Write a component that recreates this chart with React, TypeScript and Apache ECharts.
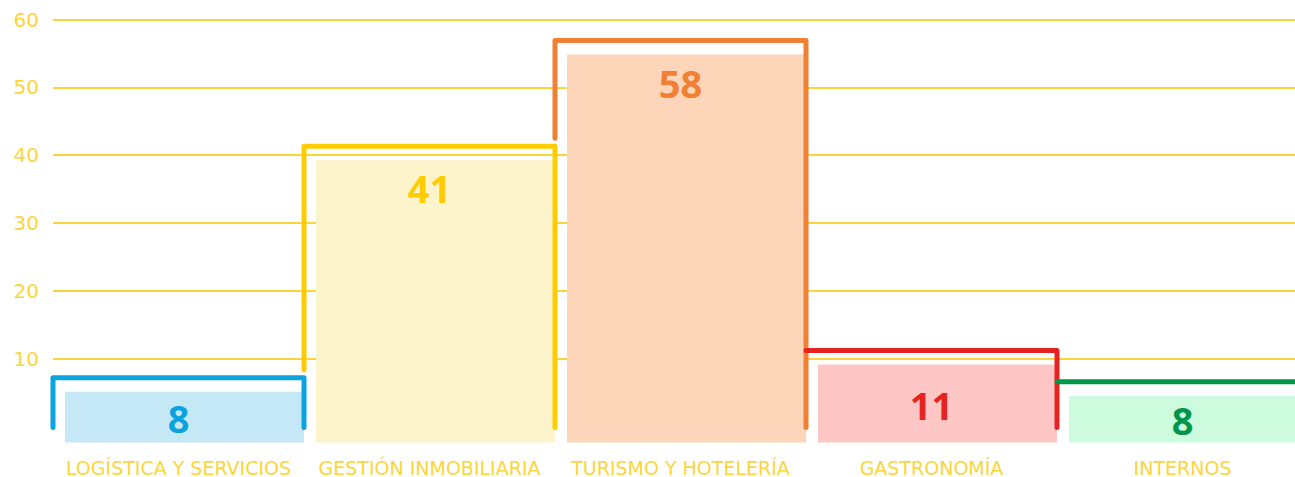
import React, { useEffect, useRef } from "react";
import * as echarts from "echarts";

const categories = [
  "LOGÍSTICA Y SERVICIOS",
  "GESTIÓN INMOBILIARIA",
  "TURISMO Y HOTELERÍA",
  "GASTRONOMÍA",
  "INTERNOS",
];
const valueLabels = [8, 41, 58, 11, 8];
const bracketHeights = [7.2, 41.3, 56.9, 11.2, 6.6];
const lineColors = ["#0BA3DF", "#FFCC00", "#F08033", "#E52421", "#00964A"];
const fillColors = ["#C5E8F7", "#FEF4CC", "#FDD5B9", "#FFC6C6", "#CCFCDD"];
const yMin = 0;
const yMax = 60;
const yInterval = 10;

const LABEL_FONT = "'DejaVu Sans', 'Noto Sans', sans-serif";
const VALUE_FONT = "'Open Sans', 'Noto Sans', sans-serif";
const AXIS_YELLOW = "#FDD53A";

export default function App() {
  const ref = useRef<HTMLDivElement>(null);

  useEffect(() => {
    document.body.style.margin = "0";
    document.body.style.overflow = "hidden";
    document.documentElement.style.overflow = "hidden";
    if (!ref.current) return;
    const chart = echarts.init(ref.current, null, { renderer: "svg" });

    const renderItem = (params: any, api: any) => {
      const i = params.dataIndex;
      const bw = api.size([1, 0])[0];
      const center = api.coord([i, 0]);
      const zeroPx = center[1];
      const bandStart = center[0] - bw / 2;
      const bandEnd = center[0] + bw / 2;
      const topPx = api.coord([i, api.value(1)])[1];
      const bottomPx = zeroPx + 16;
      const fillTop = topPx + 14;

      const points: number[][] = [];
      if (i === 0) {
        points.push([bandStart, zeroPx + 1]);
      } else if (bracketHeights[i - 1] < bracketHeights[i]) {
        const prevTop = api.coord([i - 1, bracketHeights[i - 1]])[1];
        points.push([bandStart, prevTop - 8]);
      }
      points.push([bandStart, topPx]);
      points.push([bandEnd, topPx]);
      points.push([bandEnd, zeroPx + 1]);

      const fillH = bottomPx - fillTop;
      const labelY = fillH > 120 ? fillTop + 28 : (fillTop + bottomPx) / 2 + 1;

      return {
        type: "group",
        children: [
          {
            type: "rect",
            shape: { x: bandStart + 12, y: fillTop, width: bw - 12, height: fillH },
            style: { fill: fillColors[i] },
          },
          {
            type: "polyline",
            shape: { points },
            style: {
              stroke: lineColors[i],
              lineWidth: 5,
              fill: null,
              lineCap: "round",
              lineJoin: "round",
            },
          },
          {
            type: "text",
            style: {
              text: String(valueLabels[i]),
              x: center[0],
              y: labelY,
              fill: lineColors[i],
              fontSize: 38,
              fontWeight: "bold",
              fontFamily: VALUE_FONT,
              align: "center",
              verticalAlign: "middle",
            },
          },
        ],
      };
    };

    chart.setOption({
      animation: false,
      backgroundColor: "#ffffff",
      grid: { left: 53, top: 19.5, right: 0, bottom: 47.2, containLabel: false },
      xAxis: {
        type: "category",
        data: categories,
        axisLine: { show: false },
        axisTick: { show: false },
        splitLine: { show: false },
        axisLabel: {
          color: AXIS_YELLOW,
          fontFamily: LABEL_FONT,
          fontSize: 19,
          lineHeight: 16,
          margin: 33,
          interval: 0,
        },
      },
      yAxis: {
        type: "value",
        min: yMin,
        max: yMax,
        interval: yInterval,
        axisLine: { show: false },
        axisTick: { show: false },
        axisLabel: {
          color: AXIS_YELLOW,
          fontFamily: LABEL_FONT,
          fontSize: 20,
          margin: 14,
          showMinLabel: false,
        },
        splitLine: {
          show: true,
          showMinLine: false,
          lineStyle: { color: AXIS_YELLOW, width: 2 },
        },
      },
      series: [
        {
          type: "custom",
          clip: false,
          renderItem,
          encode: { x: 0, y: 1 },
          data: bracketHeights.map((h, i) => [i, h]),
          z: 3,
        },
      ],
    });

    return () => chart.dispose();
  }, []);

  return <div ref={ref} style={{ width: 1308, height: 477 }} />;
}
